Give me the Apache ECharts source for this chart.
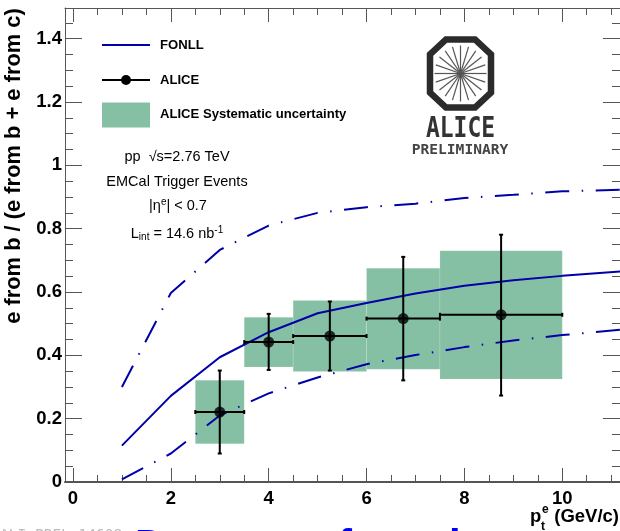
<!DOCTYPE html>
<html>
<head>
<meta charset="utf-8">
<style>html,body{margin:0;padding:0;background:#fff;overflow:hidden}#c{width:620px;height:531px}</style>
<script src="https://cdn.jsdelivr.net/npm/echarts@6/dist/echarts.min.js"></script>
</head>
<body>
<div id="c"></div>
<script>
// FONLL curves
const fonllX = [1, 2, 3, 4, 5, 6, 7, 8, 9, 10, 11.2];
const fonllCentral = [0.115, 0.272, 0.394, 0.473, 0.533, 0.565, 0.595, 0.62, 0.637, 0.651, 0.665];
const fonllUpper = [0.30, 0.597, 0.733, 0.81, 0.85, 0.868, 0.879, 0.897, 0.907, 0.918, 0.923];
const fonllLower = [0.008, 0.09, 0.21, 0.28, 0.33, 0.372, 0.401, 0.426, 0.447, 0.464, 0.481];
// ALICE points
const ptX = [3, 4, 5.25, 6.75, 8.75];
const ptY = [0.221, 0.442, 0.461, 0.516, 0.528];
const ptXLow = [2.5, 3.5, 4.5, 6, 7.5];
const ptXHigh = [3.5, 4.5, 6, 7.5, 10];
const ptYLow = [0.09, 0.354, 0.352, 0.321, 0.273];
const ptYHigh = [0.352, 0.531, 0.57, 0.711, 0.781];
// systematic boxes
const sysYLow = [0.121, 0.363, 0.349, 0.356, 0.325];
const sysYHigh = [0.321, 0.52, 0.573, 0.675, 0.73];
// ticks
const xMajor = [0, 2, 4, 6, 8, 10];
const xMinor = [0.5, 1, 1.5, 2.5, 3, 3.5, 4.5, 5, 5.5, 6.5, 7, 7.5, 8.5, 9, 9.5, 10.5, 11];
const yMajor = [0, 0.2, 0.4, 0.6, 0.8, 1, 1.2, 1.4];
const yMinor = [0.05, 0.1, 0.15, 0.25, 0.3, 0.35, 0.45, 0.5, 0.55, 0.65, 0.7, 0.75, 0.85, 0.9, 0.95, 1.05, 1.1, 1.15, 1.25, 1.3, 1.35, 1.45];

const BLUE = '#0000a8', GREEN = '#86c0a4', AX = '#555555';
const SANS = '"Liberation Sans", Arial, sans-serif';
const MONO = '"DejaVu Sans Mono", monospace';
const XMIN = -0.163, XMAX = 11.18, YMIN = 0, YMAX = 1.497;
const DASH = [24, 12.5, 1.5, 12.5];

function xAxis(pos, ticks, len, main) {
  return {
    type: 'value', position: pos, min: XMIN, max: XMAX, splitLine: {show: false},
    axisLine: {show: main, onZero: false, lineStyle: {color: AX, width: pos === 'bottom' ? 2 : 1}},
    axisTick: {show: true, inside: true, length: len, customValues: ticks, lineStyle: {color: AX, width: 1}},
    axisLabel: main && pos === 'bottom'
      ? {show: true, customValues: xMajor, margin: 7, color: '#000', fontFamily: SANS, fontWeight: 'bold', fontSize: 18.5, hideOverlap: false, showMinLabel: true, showMaxLabel: true}
      : {show: false}
  };
}
function yAxis(pos, ticks, len, main) {
  return {
    type: 'value', position: pos, min: YMIN, max: YMAX, splitLine: {show: false},
    axisLine: {show: main, onZero: false, lineStyle: {color: AX, width: 1}},
    axisTick: {show: true, inside: true, length: len, customValues: ticks, lineStyle: {color: AX, width: 1}},
    axisLabel: main && pos === 'left'
      ? {show: true, customValues: yMajor, margin: 3, color: '#000', fontFamily: SANS, fontWeight: 'bold', fontSize: 18.5}
      : {show: false}
  };
}
const xAxes = [xAxis('bottom', xMajor, 14, true), xAxis('bottom', xMinor, 7, false), xAxis('top', xMajor, 14, true), xAxis('top', xMinor, 7, false)];
const yAxes = [yAxis('left', yMajor, 17, true), yAxis('left', yMinor, 8, false), yAxis('right', yMajor, 17, true), yAxis('right', yMinor, 8, false)];
yAxes[0].name = 'e from b / (e from b + e from c)';
yAxes[0].nameLocation = 'middle';
yAxes[0].nameRotate = 90;
yAxes[0].nameGap = 30;
yAxes[0].nameTextStyle = {fontFamily: SANS, fontWeight: 'bold', fontSize: 21.9, color: '#000', padding: [0, 0, 0, 158]};

const sysData = ptX.map((_, i) => [ptXLow[i], ptXHigh[i], sysYLow[i], sysYHigh[i]]);
const errData = ptX.map((_, i) => [ptX[i], ptY[i], ptXLow[i], ptXHigh[i], ptYLow[i], ptYHigh[i]]);

function renderBox(params, api) {
  const a = api.coord([api.value(0), api.value(3)]);
  const b = api.coord([api.value(1), api.value(2)]);
  return {type: 'rect', shape: {x: a[0], y: a[1], width: b[0] - a[0], height: b[1] - a[1]}, style: {fill: GREEN, stroke: 'rgba(255,255,255,0.25)', lineWidth: 0.5}};
}
function renderErr(params, api) {
  const x = api.value(0), y = api.value(1);
  const l = api.coord([api.value(2), y]), r = api.coord([api.value(3), y]);
  const d = api.coord([x, api.value(4)]), u = api.coord([x, api.value(5)]);
  const st = {stroke: '#000', lineWidth: 2, fill: null};
  const seg = (x1, y1, x2, y2) => ({type: 'line', shape: {x1, y1, x2, y2}, style: st});
  return {type: 'group', children: [
    seg(l[0], l[1], r[0], r[1]), seg(d[0], d[1], u[0], u[1]),
    seg(l[0], l[1] - 2, l[0], l[1] + 2), seg(r[0], r[1] - 2, r[0], r[1] + 2),
    seg(d[0] - 2, d[1], d[0] + 2, d[1]), seg(u[0] - 2, u[1], u[0] + 2, u[1])
  ]};
}
const lineSeries = (name, ys, type) => ({
  name, type: 'line', data: fonllX.map((x, i) => [x, ys[i]]), symbol: 'none', z: 3, clip: true,
  lineStyle: {color: BLUE, width: 2, type}
});

// logo
const LX = 460.5, LY = 73.5, logo = [];
logo.push({type: 'polygon', shape: {points: [[-14.5,-34],[14.5,-34],[30.5,-19],[30.5,19],[14.5,34],[-14.5,34],[-30.5,19],[-30.5,-19]].map(p => [LX + p[0], LY + p[1]])},
  style: {fill: '#fff', stroke: '#2b2b2b', lineWidth: 6.5}});
for (let k = 0; k < 20; k++) {
  const t = k * Math.PI / 10;
  logo.push({type: 'line', shape: {x1: LX, y1: LY, x2: LX + 26 * Math.cos(t), y2: LY + 28 * Math.sin(t)}, style: {stroke: '#555', lineWidth: 1.2}});
}
logo.push({type: 'text', x: 460.5, y: 129.5, scaleX: 0.82, style: {text: 'ALICE', font: 'bold 28px ' + MONO, fill: '#333', align: 'center', verticalAlign: 'middle'}});
logo.push({type: 'text', x: 460, y: 150, style: {text: 'PRELIMINARY', font: 'bold 14.6px ' + MONO, fill: '#444', align: 'center', verticalAlign: 'middle'}});

const txt = (x, y, text, font, extra) => ({type: 'text', x, y, style: Object.assign({text, font, fill: '#000', verticalAlign: 'middle'}, extra || {})});
const LEG = 'bold 13.1px ' + SANS, NOTE = '14.5px ' + SANS, AXT = 'bold 18.5px ' + SANS;
const graphicEls = [
  {type: 'line', shape: {x1: 102, y1: 45, x2: 150, y2: 45}, style: {stroke: BLUE, lineWidth: 2}},
  {type: 'line', shape: {x1: 102, y1: 80, x2: 150, y2: 80}, style: {stroke: '#000', lineWidth: 2}},
  {type: 'circle', shape: {cx: 126, cy: 80, r: 5}, style: {fill: '#000'}},
  {type: 'rect', shape: {x: 102, y: 102.5, width: 48, height: 25}, style: {fill: GREEN}},
  txt(160, 45.5, 'FONLL', LEG),
  txt(160, 80.5, 'ALICE', LEG),
  txt(160, 114.5, 'ALICE Systematic uncertainty', LEG),
  txt(177, 156.5, 'pp  \u221As=2.76 TeV', NOTE, {align: 'center'}),
  txt(177, 182, 'EMCal Trigger Events', NOTE, {align: 'center'}),
  {type: 'text', x: 178, y: 206, style: {text: '|\u03b7{s|e}| < 0.7', font: NOTE, fill: '#000', align: 'center', verticalAlign: 'middle', rich: {s: {font: '10px ' + SANS, fill: '#000', padding: [0, 0, 7, 0]}}}},
  {type: 'text', x: 177, y: 234, style: {text: 'L{d|int} = 14.6 nb{s|-1}', font: NOTE, fill: '#000', align: 'center', verticalAlign: 'middle', rich: {s: {font: '10px ' + SANS, fill: '#000', padding: [0, 0, 7, 0]}, d: {font: '10px ' + SANS, fill: '#000', padding: [6, 0, 0, 0]}}}},
  txt(530, 517, 'p', AXT),
  txt(542, 510, 'e', 'bold 12px ' + SANS),
  txt(541, 527, 't', 'bold 12px ' + SANS),
  txt(619, 517, '(GeV/c)', AXT, {align: 'right'}),
  txt(0, 535, 'ALI-PREL-14608', '14.5px ' + MONO, {fill: '#bbbbbb'}),
  txt(135, 547, 'Degrees of', 'bold 42px ' + SANS, {fill: '#0000ee'}),
  txt(449, 547, 'i', 'bold 42px ' + SANS, {fill: '#0000ee'})
].concat(logo);

const chart = echarts.init(document.getElementById('c'), null, {renderer: 'canvas'});
chart.setOption({
  animation: false,
  backgroundColor: '#fff',
  grid: {left: 65, right: 0, top: 8, bottom: 49, containLabel: false, outerBoundsMode: 'none'},
  xAxis: xAxes,
  yAxis: yAxes,
  graphic: graphicEls,
  series: [
    {name: 'ALICE Systematic uncertainty', type: 'custom', data: sysData, renderItem: renderBox, encode: {x: [0, 1], y: [2, 3]}, z: 1, clip: true},
    lineSeries('FONLL', fonllCentral, 'solid'),
    lineSeries('FONLL upper', fonllUpper, DASH),
    lineSeries('FONLL lower', fonllLower, DASH),
    {name: 'ALICE errors', type: 'custom', data: errData, renderItem: renderErr, encode: {x: 0, y: 1}, z: 4},
    {name: 'ALICE', type: 'scatter', data: ptX.map((x, i) => [x, ptY[i]]), symbol: 'circle', symbolSize: 11, itemStyle: {color: '#000'}, z: 5}
  ]
});
</script>
</body>
</html>
